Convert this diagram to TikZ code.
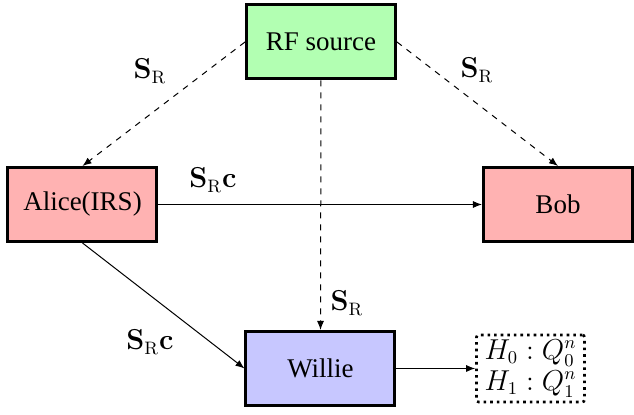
\documentclass[tikz,border=0pt]{standalone}
\usepackage[no-math]{fontspec}
\setmainfont{Liberation Serif}
\usetikzlibrary{arrows.meta}
\tikzset{
  unitbox/.style={draw, line width=1.5pt, minimum width=74.5pt, minimum height=37pt, inner sep=0pt},
  link/.style={line width=0.5pt, -{Latex[length=4.5pt,width=3.5pt]}},
  dlink/.style={link, dashed},
  lbl/.style={inner sep=0pt}
}
\begin{document}
\begin{tikzpicture}[x=0.5pt, y=-0.5pt, font=\fontsize{13.5}{16}\selectfont]
\useasboundingbox (0,0) rectangle (634,415);
% stations
\node[unitbox, fill=green!30] (rf) at (321,42) {RF source};
\node[unitbox, fill=red!30] (alice) at (82.5,204.5) {Alice(IRS)};
\node[unitbox, fill=red!30] (bob) at (558,204.5) {Bob};
\node[unitbox, fill=blue!22] (willie) at (320.5,368.5) {Willie};
% hypothesis test at the warden
\node[draw, dotted, line width=1.3pt, rounded corners=1pt, minimum width=54pt, minimum height=33.5pt, inner sep=0pt, align=center] (test) at (530.5,368.5)
  {$H_0 : Q_0^n$\\[-0.5pt]$H_1 : Q_1^n$};
% links
\draw[dlink] (rf.west) -- (alice.north);
\draw[dlink] (rf.east) -- (bob.north);
\draw[dlink] (rf.south) -- (willie.north);
\draw[link] (alice.east) -- (bob.west);
\draw[link] (alice.south) -- (willie.west);
\draw[link] (willie.east) -- (test.west);
% link labels
\node[lbl] (l1) at (150,71) {$\mathbf{S}_{\mathrm{R}}$};
\node[lbl] (l2) at (477,70) {$\mathbf{S}_{\mathrm{R}}$};
\node[lbl] (l3) at (347,303) {$\mathbf{S}_{\mathrm{R}}$};
\node[lbl] (l4) at (213,180) {$\mathbf{S}_{\mathrm{R}}\mathbf{c}$};
\node[lbl] (l5) at (150,342) {$\mathbf{S}_{\mathrm{R}}\mathbf{c}$};
\end{tikzpicture}
\end{document}
